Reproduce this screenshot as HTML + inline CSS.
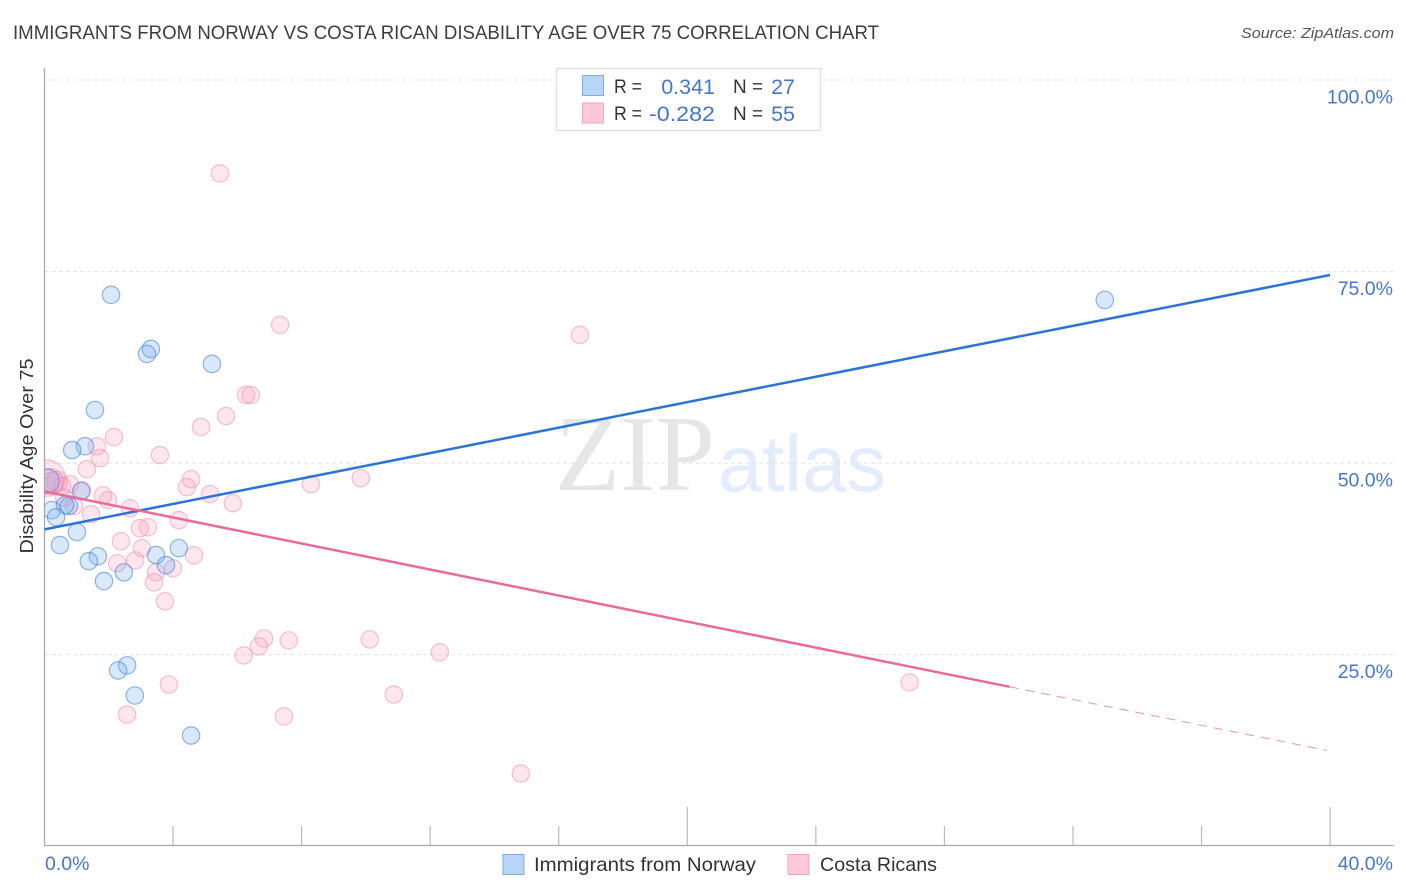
<!DOCTYPE html>
<html>
<head>
<meta charset="utf-8">
<title>Immigrants from Norway vs Costa Rican Disability Age Over 75 Correlation Chart</title>
<style>
html,body{margin:0;padding:0;background:#fff;}
svg{display:block;font-family:"Liberation Sans",sans-serif;}
</style>
</head>
<body>
<svg id="chart" xmlns="http://www.w3.org/2000/svg" width="1406" height="892" viewBox="0 0 1406 892">
<defs><clipPath id="plot-clip"><rect x="45" y="68" width="1349" height="777"></rect></clipPath></defs>
<rect x="0" y="0" width="1406" height="892" fill="#ffffff"></rect>
<text x="13" y="39" font-size="19" fill="#3a3d44" textLength="866" lengthAdjust="spacingAndGlyphs">IMMIGRANTS FROM NORWAY VS COSTA RICAN DISABILITY AGE OVER 75 CORRELATION CHART</text>
<text x="1394" y="38" font-size="15" font-style="italic" fill="#555" text-anchor="end" textLength="153" lengthAdjust="spacingAndGlyphs">Source: ZipAtlas.com</text>
<g>
<text x="555" y="490" font-family="'Liberation Serif',serif" font-size="108" fill="#e6e6e6" textLength="160" lengthAdjust="spacingAndGlyphs">ZIP</text>
<text x="718" y="491" font-size="80" fill="#e3ecfa" textLength="168" lengthAdjust="spacingAndGlyphs">atlas</text>
</g>
<g id="grid"></g>
<g id="axes"></g>
<g id="marks" clip-path="url(#plot-clip)"></g>
<g id="trends"></g>
<g>
<rect x="556.5" y="68.5" width="264" height="62" fill="#fff" stroke="#ddd" stroke-width="1.2"></rect>
<rect x="582.5" y="75.5" width="21" height="20" fill="#b9d4f9" stroke="#7fade8" stroke-width="1"></rect>
<rect x="582.5" y="103" width="21" height="20" fill="#fcc8da" stroke="#f3a3bf" stroke-width="1"></rect>
<text x="614" y="93" font-size="19.5" fill="#333" textLength="28" lengthAdjust="spacingAndGlyphs">R =</text>
<text x="715" y="94" font-size="21.5" fill="#4478d0" text-anchor="end">0.341</text>
<text x="733" y="93" font-size="19.5" fill="#333" textLength="30" lengthAdjust="spacingAndGlyphs">N =</text>
<text x="795" y="94" font-size="21.5" fill="#4478d0" text-anchor="end">27</text>
<text x="614" y="120" font-size="19.5" fill="#333" textLength="28" lengthAdjust="spacingAndGlyphs">R =</text>
<text x="649" y="121" font-size="21.5" fill="#4478d0" textLength="66" lengthAdjust="spacingAndGlyphs">-0.282</text>
<text x="733" y="120" font-size="19.5" fill="#333" textLength="30" lengthAdjust="spacingAndGlyphs">N =</text>
<text x="795" y="121" font-size="21.5" fill="#4478d0" text-anchor="end">55</text>
</g>
<g>
<rect x="503" y="854.5" width="21" height="20" fill="#b9d4f9" stroke="#7fade8" stroke-width="1"></rect>
<text x="534" y="871" font-size="19.5" fill="#333" textLength="222" lengthAdjust="spacingAndGlyphs">Immigrants from Norway</text>
<rect x="788" y="854.5" width="21" height="20" fill="#fcc8da" stroke="#f3a3bf" stroke-width="1"></rect>
<text x="820" y="871" font-size="19.5" fill="#333" textLength="117" lengthAdjust="spacingAndGlyphs">Costa Ricans</text>
</g>
<text transform="translate(33,456) rotate(-90)" font-size="18.5" fill="#333" text-anchor="middle" textLength="195" lengthAdjust="spacingAndGlyphs">Disability Age Over 75</text>
</svg>
<script>
const xTickValues = [0, 4, 8, 12, 16, 20, 24, 28, 32, 36, 40];
const majorXTicks = [0, 20, 40];
const xEndLabels = ["0.0%", "40.0%"];
const yTickValues = [100, 75, 50, 25];
const yTickLabels = ["100.0%", "75.0%", "50.0%", "25.0%"];

const norwayX = [2.07,3.31,3.19,5.21,1.57,1.26,0.86,32.99,1.14,0.76,0.64,0.23,0.36,1.01,0.48,1.66,1.38,1.85,2.47,3.47,3.78,4.18,2.57,2.29,2.81,4.56,0.08];
const norwayY = [71.96,64.9,64.25,62.94,56.93,52.2,51.7,71.3,46.34,44.4,44.5,43.86,42.94,41.0,39.3,37.84,37.2,34.6,35.75,38.0,36.67,38.9,23.6,22.94,19.67,14.44,47.65];
const norwayWeight = [1,1,1,1,1,1,1,1,1,1,1,1,1,1,1,1,1,1,1,1,1,1,1,1,1,1,1.4];

const costaX = [5.46,7.33,16.66,6.27,6.42,5.65,4.87,2.16,1.63,1.73,3.59,1.32,9.84,8.29,4.56,4.43,5.15,1.17,5.86,1.82,1.98,2.66,1.45,4.18,3.22,2.97,2.38,3.03,4.65,2.82,2.26,3.47,4.0,3.41,3.75,6.83,7.6,10.12,6.67,6.2,12.3,3.87,26.92,10.87,2.57,7.45,14.82,0.08,0.17,0.39,0.79,0.55,0.61,0.92,0.27];
const costaY = [87.8,68.04,66.73,58.9,58.9,56.14,54.7,53.4,52.2,50.65,51.05,49.2,48.04,47.25,47.9,46.86,45.95,46.47,44.77,45.8,45.16,44.1,43.33,42.55,41.63,41.5,39.8,38.9,37.97,37.3,36.93,35.75,36.27,34.44,31.96,27.12,26.86,26.99,26.08,24.9,25.3,21.1,21.37,19.8,17.19,16.93,9.48,48.04,47.6,47.6,47.25,47.0,45.5,44.4,47.5];
const costaWeight = [1,1,1,1,1,1,1,1,1,1,1,1,1,1,1,1,1,1,1,1,1,1,1,1,1,1,1,1,1,1,1,1,1,1,1,1,1,1,1,1,1,1,1,1,1,1,1,2.1,1.5,1.2,1,1,1,1,1.2];

const norwayTrendX = [0, 40];
const norwayTrendY = [41.35, 74.55];
const costaTrendX = [0, 30.03];
const costaTrendY = [46.3, 20.8];
const costaDashX = [30.03, 39.9];
const costaDashY = [20.8, 12.5];

const NS = 'http://www.w3.org/2000/svg';
function sx(v){ return 44.5 + v * 32.14; }
function sy(v){ return 846.2 - v * 7.662; }
function make(parent, tag, attrs){
  const e = document.createElementNS(NS, tag);
  for (const k in attrs) e.setAttribute(k, attrs[k]);
  parent.appendChild(e);
  return e;
}
const grid = document.getElementById('grid');
const axes = document.getElementById('axes');
const marks = document.getElementById('marks');
const trends = document.getElementById('trends');

yTickValues.forEach(function(v, i){
  const l = make(grid, 'line', {x1:45, x2:1394, y1:sy(v), y2:sy(v), stroke:'#e2e2e2', 'stroke-width':1, 'stroke-dasharray':'4 3'});
  
  
  const t = make(axes, 'text', {x:1393, y:sy(v) + 23.5, 'font-size':19.5, fill:'#4478d0', 'text-anchor':'end'});
  t.textContent = yTickLabels[i];
  
  
});

const yAxis = make(axes, 'line', {x1:44.5, x2:44.5, y1:68, y2:846, stroke:'#aaaaaa', 'stroke-width':1.3});


const xAxis = make(axes, 'line', {x1:44, x2:1394, y1:845.5, y2:845.5, stroke:'#aaaaaa', 'stroke-width':1.3});



xTickValues.forEach(function(v){
  if (v === 0) return;
  const top = majorXTicks.indexOf(v) >= 0 ? 807 : 826;
  const l = make(axes, 'line', {x1:sx(v), x2:sx(v), y1:top, y2:845, stroke:'#bbbbbb', 'stroke-width':1.2});
  
  
});

const x0 = make(axes, 'text', {x:45, y:870, 'font-size':19.5, fill:'#4478d0'});
x0.textContent = xEndLabels[0];


const x1 = make(axes, 'text', {x:1393, y:870, 'font-size':19.5, fill:'#4478d0', 'text-anchor':'end'});
x1.textContent = xEndLabels[1];



costaX.forEach(function(v, i){
  const c = make(marks, 'circle', {cx:sx(v), cy:sy(costaY[i]), r:8.7 * costaWeight[i], fill:'rgba(247,155,186,0.25)', stroke:'rgba(236,135,170,0.5)', 'stroke-width':1.2});
  
  
});
norwayX.forEach(function(v, i){
  const c = make(marks, 'circle', {cx:sx(v), cy:sy(norwayY[i]), r:8.7 * norwayWeight[i], fill:'rgba(115,170,240,0.27)', stroke:'rgba(70,135,220,0.6)', 'stroke-width':1.2});
  
  
});

const tb = make(trends, 'line', {x1:sx(norwayTrendX[0]), y1:sy(norwayTrendY[0]), x2:sx(norwayTrendX[1]), y2:sy(norwayTrendY[1]), stroke:'#2a74d8', 'stroke-width':2.5});


const tp = make(trends, 'line', {x1:sx(costaTrendX[0]), y1:sy(costaTrendY[0]), x2:sx(costaTrendX[1]), y2:sy(costaTrendY[1]), stroke:'#ea6a9a', 'stroke-width':2.5});


const td = make(trends, 'line', {x1:sx(costaDashX[0]), y1:sy(costaDashY[0]), x2:sx(costaDashX[1]), y2:sy(costaDashY[1]), stroke:'#ea6a9a', 'stroke-width':1, 'stroke-dasharray':'9 7', opacity:0.75});


</script>
</body>
</html>
